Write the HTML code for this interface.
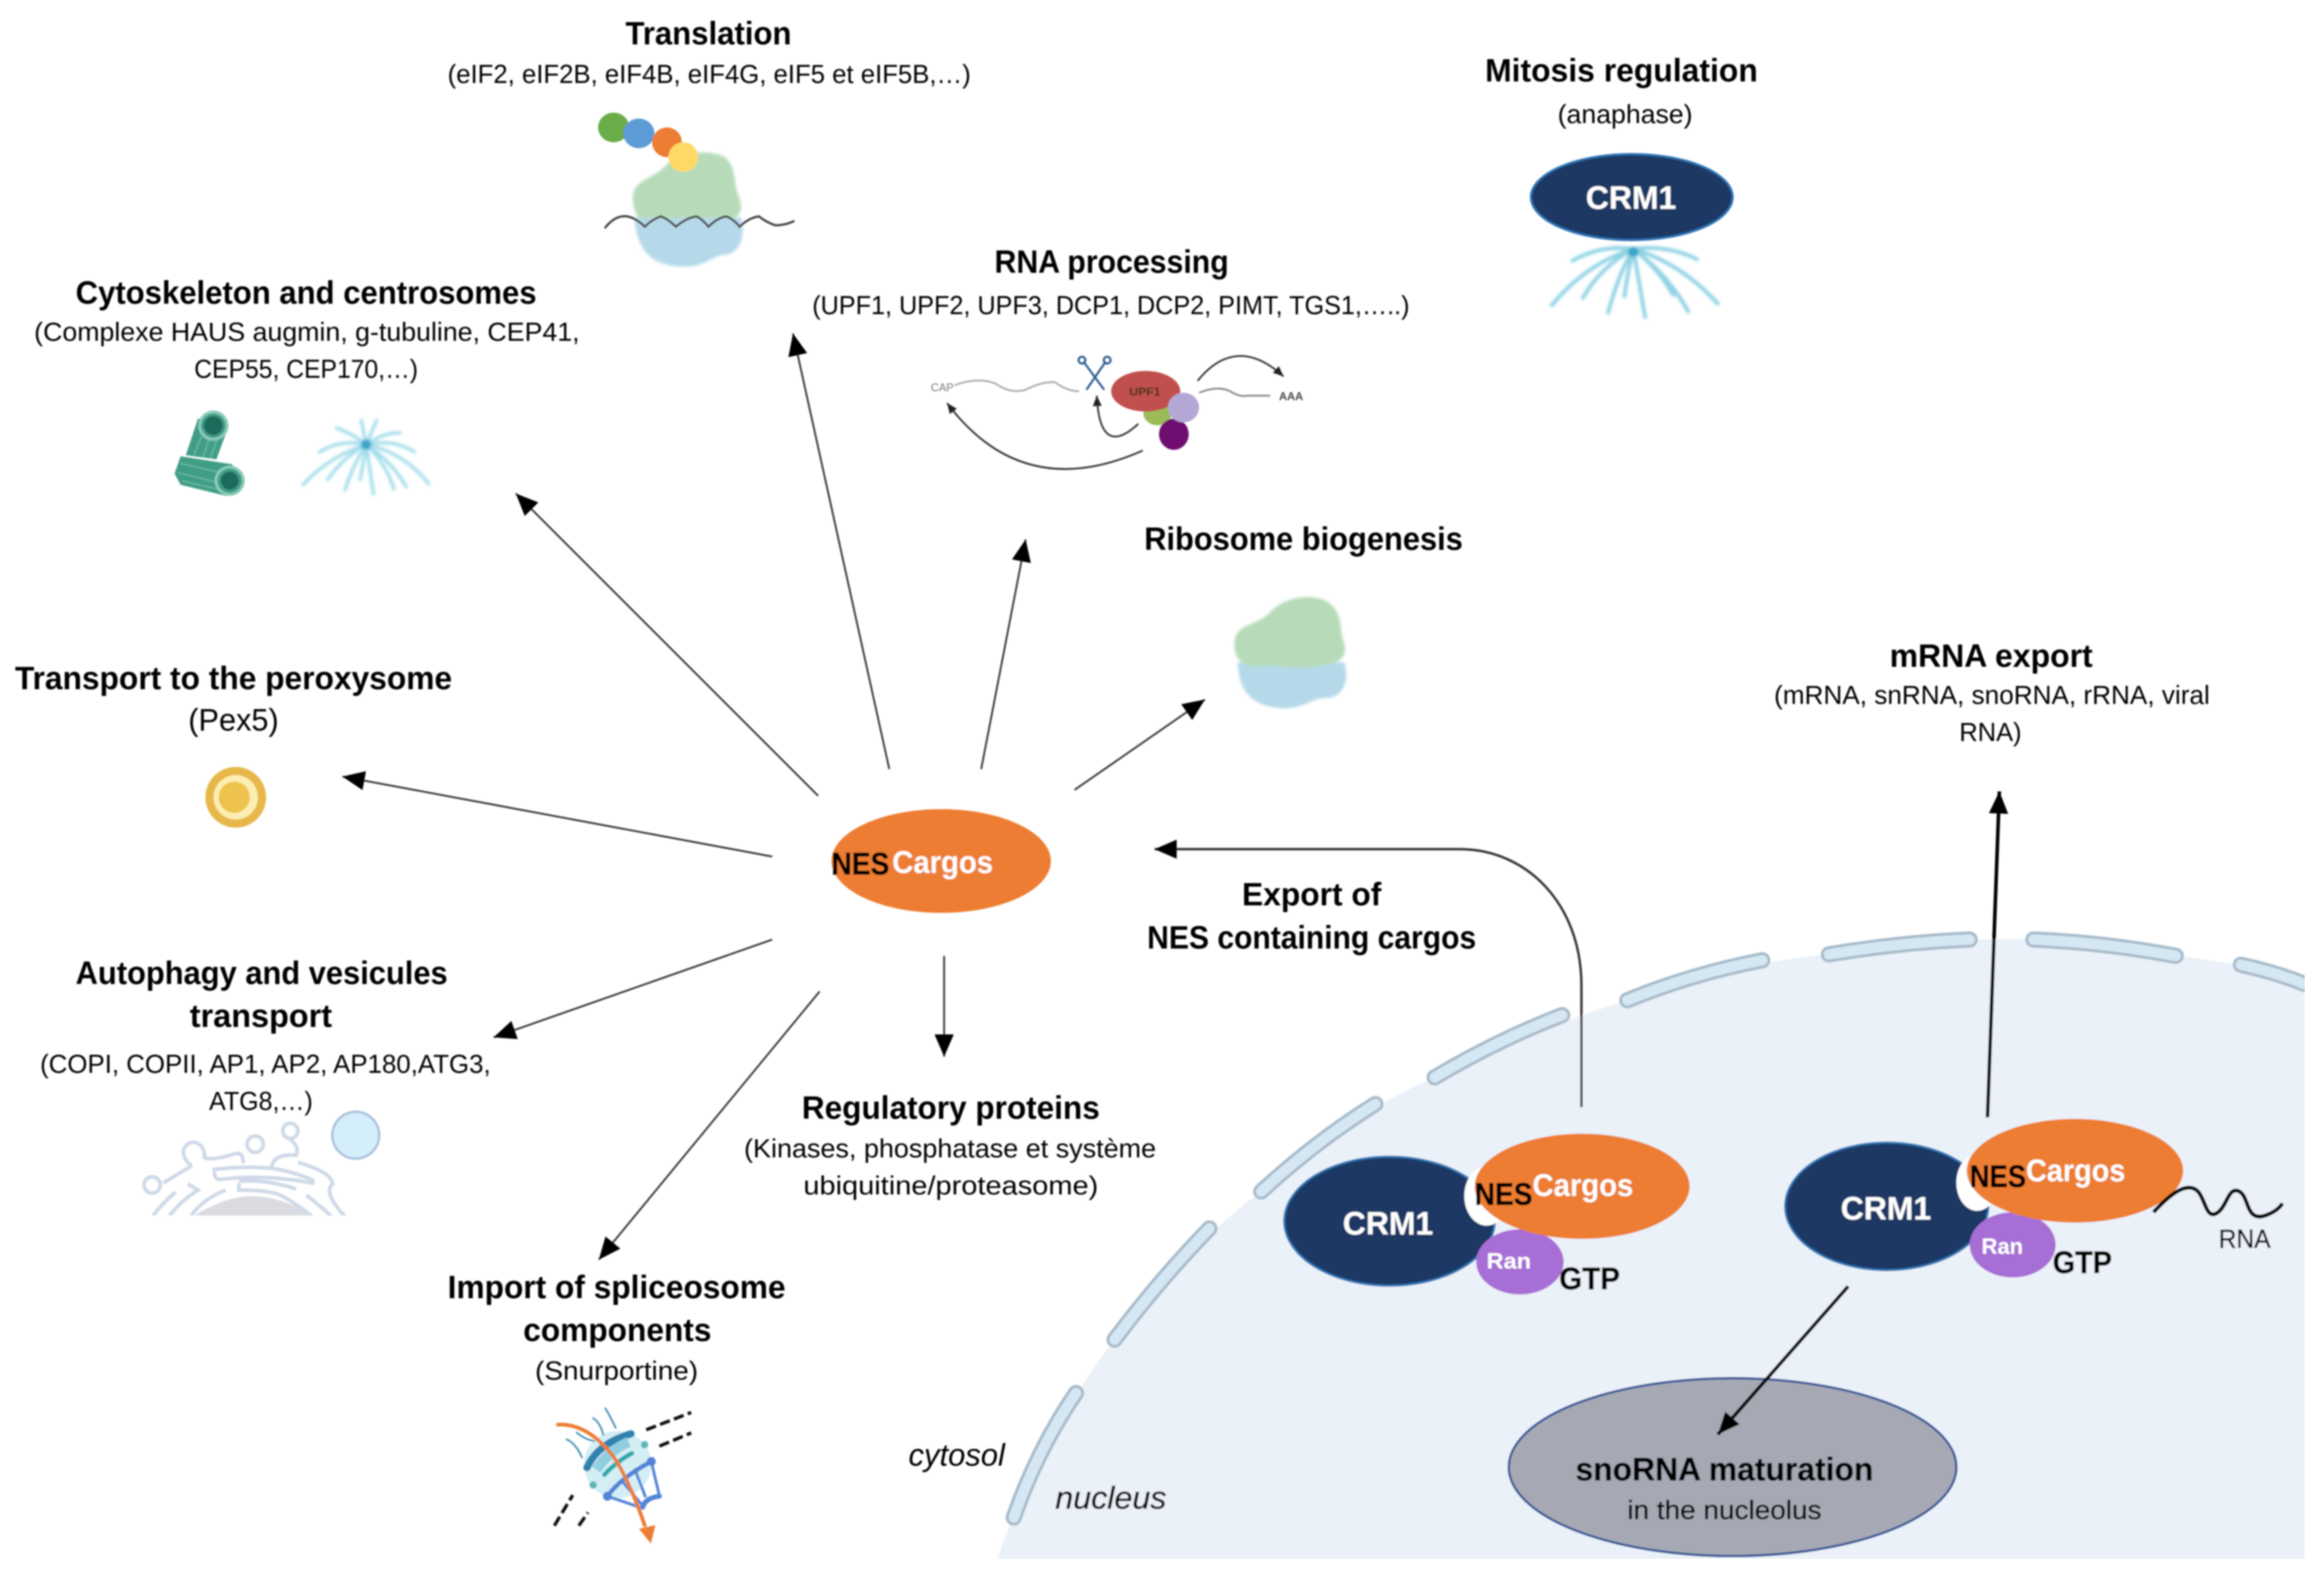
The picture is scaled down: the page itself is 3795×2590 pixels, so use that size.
<!DOCTYPE html>
<html lang="en">
<head>
<meta charset="utf-8">
<title>CRM1 export pathways</title>
<style>
html,body{margin:0;padding:0;background:#fff;width:3795px;height:2590px;overflow:hidden}
svg{display:block}
text{font-family:"Liberation Sans",sans-serif;fill:#000}
.t{font-size:22px;font-weight:700;fill:#000}
.s{font-size:17.5px;fill:#000}
.w{font-weight:700;fill:#fff}
.n{font-weight:700;fill:#000;stroke:#000;stroke-width:.35px}
.d{stroke:#000;stroke-width:.3px}
</style>
</head>
<body>
<svg xmlns="http://www.w3.org/2000/svg" width="3795" height="2590" viewBox="0 0 1568 1070.2">
<defs>
<marker id="a" markerUnits="userSpaceOnUse" markerWidth="16" markerHeight="14" refX="15" refY="6.5" orient="auto"><path d="M0 0L15 6.5L0 13Z" fill="#000"/></marker>
<marker id="sm" markerUnits="userSpaceOnUse" markerWidth="8" markerHeight="8" refX="7" refY="3" orient="auto"><path d="M0 0L7 3L0 6Z" fill="#222"/></marker>
<filter id="soft" x="0" y="0" width="100%" height="100%"><feGaussianBlur stdDeviation="0.5"/></filter>
<filter id="b1" x="-20%" y="-20%" width="140%" height="140%"><feGaussianBlur stdDeviation="0.9"/></filter>
<clipPath id="gc"><rect x="0" y="0" width="1300" height="555"/></clipPath>
</defs>
<rect width="1568" height="1070.2" fill="#fff"/>
<g filter="url(#soft)">

<!-- nucleus -->
<path d="M673 1052C690 1000 720 945 752 904C780 870 815 830 851 804C885 775 925 745 968 727C1010 705 1050 690 1098 675C1140 660 1190 648 1234 644C1280 638 1330 632 1372 634C1420 636 1468 645 1512 651L1555 664V1052Z" fill="#ebf1f8"/>
<g fill="none" stroke-linecap="round" stroke="#a9bccb" stroke-width="11">
<path d="M684 1024Q700 978 726 940"/><path d="M752 904Q782 864 816 829"/><path d="M851 804Q888 770 928 745"/><path d="M968 727Q1010 702 1054 685"/><path d="M1098 675Q1142 657 1189 648"/><path d="M1234 644Q1282 636 1329 634"/><path d="M1372 634Q1420 636 1468 645"/><path d="M1512 651Q1535 656 1555 664"/>
</g>
<g fill="none" stroke-linecap="round" stroke="#d6e7f4" stroke-width="7">
<path d="M684 1024Q700 978 726 940"/><path d="M752 904Q782 864 816 829"/><path d="M851 804Q888 770 928 745"/><path d="M968 727Q1010 702 1054 685"/><path d="M1098 675Q1142 657 1189 648"/><path d="M1234 644Q1282 636 1329 634"/><path d="M1372 634Q1420 636 1468 645"/><path d="M1512 651Q1535 656 1555 664"/>
</g>

<!-- arrows -->
<g stroke="#333" stroke-width="1.2" fill="none">
<line x1="600" y1="519" x2="535" y2="225" marker-end="url(#a)"/>
<line x1="662" y1="519" x2="692" y2="364" marker-end="url(#a)"/>
<line x1="725" y1="533" x2="813" y2="472" marker-end="url(#a)"/>
<line x1="552" y1="537" x2="348" y2="333" marker-end="url(#a)"/>
<line x1="521" y1="578" x2="231" y2="524" marker-end="url(#a)"/>
<line x1="521" y1="634" x2="333" y2="700" marker-end="url(#a)"/>
<line x1="553" y1="669" x2="404" y2="850" marker-end="url(#a)"/>
<line x1="637" y1="645" x2="637" y2="713" marker-end="url(#a)"/>
<path d="M1067 747V665C1067 610 1030 573 985 573H779" stroke-width="1.6" marker-end="url(#a)"/>
</g>
<line x1="1341" y1="754" x2="1349" y2="534" stroke="#000" stroke-width="2.4" marker-end="url(#a)"/>

<!-- central cargo -->
<ellipse cx="635" cy="581" rx="74" ry="35" fill="#ed7d31"/>
<text x="561" y="590" class="n" font-size="21" font-weight="700" textLength="39" lengthAdjust="spacingAndGlyphs">NES</text>
<text x="602" y="589" class="w" font-size="21" textLength="68" lengthAdjust="spacingAndGlyphs">Cargos</text>

<!-- mitosis CRM1 and aster -->
<g stroke="#8fd2e4" stroke-width="2.6" fill="none" stroke-linecap="round" filter="url(#b1)">
<path d="M1102 168Q1070 178 1047 206M1102 168Q1080 180 1068 201M1102 168Q1092 185 1085 211M1102 168Q1098 185 1096 200M1102 168L1110 214M1102 168Q1118 180 1129 199M1102 168Q1125 185 1139 210M1102 168Q1135 178 1159 205M1102 168Q1080 165 1061 176M1102 168Q1125 165 1145 175"/>
<circle cx="1102" cy="170" r="3.5" fill="#3aa5cb" stroke="none"/>
</g>
<ellipse cx="1101" cy="133" rx="68" ry="29" fill="#1f3864" stroke="#2e75b6" stroke-width="1.5"/>
<text x="1070" y="141" class="w" font-size="22" textLength="61" lengthAdjust="spacingAndGlyphs">CRM1</text>

<!-- translation icon -->
<g filter="url(#b1)">
<path d="M427 135C425 122 442 120 449 112C456 103 478 100 489 106C498 114 494 124 499 134C503 146 494 151 480 152L440 152C432 150 428 146 427 135Z" fill="#b7dbb9"/>
<path d="M428 147L500 147C503 158 500 170 490 172C480 172 478 180 460 180C442 179 430 172 428 147Z" fill="#b5d9e9"/>
</g>
<ellipse cx="414" cy="86" rx="10.5" ry="10" fill="#6aac46"/>
<ellipse cx="431" cy="90" rx="10.5" ry="10" fill="#5b9bd5"/>
<ellipse cx="450" cy="96" rx="10" ry="10" fill="#ed7d31"/>
<ellipse cx="461" cy="106" rx="10" ry="10" fill="#ffd966"/>
<path d="M408 154Q415 145 423 146Q429 147 435 153Q440 148 446 146Q451 148 456 153Q463 147 470 146Q474 148 478 153Q484 147 490 146Q495 148 499 153Q505 147 512 146Q517 150 523 152Q530 152 536 149" stroke="#444" stroke-width="1.5" fill="none"/>

<!-- RNA processing icon -->
<g fill="none" stroke="#aaa" stroke-width="1.2">
<path d="M644 260Q660 254 672 259Q682 266 692 263Q704 257 712 258Q720 264 728 264"/>
<path d="M809 265Q822 260 830 264Q836 268 842 267H857" stroke="#888"/>
</g>
<text x="628" y="264" font-size="7.5" style="fill:#777">CAP</text>
<text x="863" y="270" font-size="7.5" font-weight="700" style="fill:#444">AAA</text>
<g stroke="#2e5f93" stroke-width="1.4" fill="none">
<path d="M731 244L745 263M746 244L733 263"/>
<circle cx="730" cy="243" r="2.3"/><circle cx="747" cy="243" r="2.3"/>
</g>
<ellipse cx="781" cy="279" rx="9.5" ry="8" fill="#9bbb59"/>
<ellipse cx="792" cy="293" rx="10" ry="10.5" fill="#6f0a6f"/>
<ellipse cx="773" cy="264" rx="23.3" ry="13.7" fill="#c0504d"/>
<ellipse cx="798.5" cy="275" rx="10.5" ry="10" fill="#b4a7d6"/>
<text x="762" y="267" font-size="7.5" font-weight="700" style="fill:#331" textLength="21" lengthAdjust="spacingAndGlyphs">UPF1</text>
<g fill="none" stroke="#333" stroke-width="1.2">
<path d="M808 257Q834 225 866 254" marker-end="url(#sm)"/>
<path d="M768 286Q742 310 740 267" marker-end="url(#sm)"/>
<path d="M771 304Q690 340 639 272" marker-end="url(#sm)"/>
</g>

<!-- ribosome biogenesis -->
<g filter="url(#b1)">
<path d="M835 447L907 447C910 458 908 468 897 471C885 470 882 478 866 478C848 477 836 470 835 447Z" fill="#b5d9e9"/>
<path d="M833 432C835 420 850 422 858 412C868 402 888 400 897 407C907 416 903 424 907 434C910 446 900 449 885 450C870 452 860 448 848 450C838 449 832 445 833 432Z" fill="#b7dbb9"/>
</g>

<!-- microtubule tubes -->
<g transform="translate(107.4 268.6) scale(.1377)">
<path d="M190 100L130 280L280 300L335 150Z" fill="#3f9d86"/>
<path d="M205 190L170 280M245 200L215 290M285 200L250 295" stroke="#6bb8a3" stroke-width="7" fill="none"/>
<circle cx="265" cy="135" r="74" fill="#8ccbb9"/><circle cx="265" cy="135" r="60" fill="#3f9d86"/><circle cx="265" cy="135" r="46" fill="#1d6b5c"/>
<path d="M105 285L75 370L105 425L330 480L360 325Z" fill="#3f9d86"/>
<path d="M105 320L300 365M90 365L290 415M110 405L300 450" stroke="#6bb8a3" stroke-width="7" fill="none"/>
<circle cx="345" cy="405" r="74" fill="#8ccbb9"/><circle cx="345" cy="405" r="60" fill="#3f9d86"/><circle cx="345" cy="405" r="44" fill="#1d6b5c"/>
</g>
<!-- cytoskeleton aster -->
<g stroke="#a5deeb" stroke-width="2.3" fill="none" stroke-linecap="round" filter="url(#b1)">
<path d="M247 300Q222 308 204.500 327M247 300Q232 308 221 323.700M247 300Q238 314 232.700 330.600M247 300L243 323.700M247 300L252 333.300M247 300Q260 312 265.800 329.900M247 300Q265 312 274 328.500M247 300Q272 305 289.200 326.400M247 300Q230 296 215.500 305M247 300Q266 296 279.500 305M247 300Q237 292 227 289M247 300Q258 292 269.900 292M247 300L243.700 283.700M247 300L254 283.700"/>
<circle cx="247" cy="300" r="3.5" fill="#3aa5cb" stroke="none"/>
</g>

<!-- peroxisome -->
<circle cx="159" cy="538" r="20.5" fill="#e7b84a"/>
<circle cx="159" cy="538" r="15" fill="#fcedb0"/>
<circle cx="158" cy="538" r="10.5" fill="#edc24e"/>

<!-- autophagy icon -->
<ellipse cx="240" cy="766" rx="15.8" ry="15.8" fill="#d5eefc" stroke="#a9c0dc" stroke-width="1.6"/>
<g transform="translate(90.9 743.8) scale(.1377)">
<g clip-path="url(#gc)">
<path d="M290 555Q450 460 570 460Q720 460 870 555Z" fill="#d9dbe0"/>
<g fill="none" stroke="#cfd9e8" stroke-width="18">
<path d="M275 555Q340 470 445 430"/>
<path d="M840 455Q900 500 965 560"/>
<path d="M510 395V430Q640 430 700 450Q770 480 870 560"/>
<path d="M510 385Q660 380 790 425"/>
<path d="M390 340Q390 380 420 378Q640 350 880 398"/>
<path d="M380 330Q540 310 680 325Q780 340 880 385"/>
<path d="M170 555Q230 480 310 430L260 400"/>
<path d="M90 555Q130 500 200 440"/>
<path d="M140 395L280 310"/>
<circle cx="85" cy="405" r="40"/>
<path d="M280 310C240 290 220 230 260 205C310 175 350 230 340 270Q370 290 500 250Q535 250 530 300"/>
<circle cx="590" cy="205" r="40"/>
<circle cx="762" cy="140" r="37"/>
<path d="M760 180Q810 220 790 260Q680 250 670 320"/>
<path d="M800 295Q960 340 970 400Q920 440 1030 560"/>
</g>
</g>
</g>

<!-- NPC icon -->
<g transform="translate(367.8 942.1) scale(.1377)">
<circle cx="355" cy="335" r="165" fill="#d3eef5"/>
<g fill="none" stroke-linecap="round">
<path d="M105 212Q150 230 180 300M155 178Q190 210 240 220M235 108Q270 130 285 190M295 60Q320 100 345 155" stroke="#4a94b5" stroke-width="9"/>
<path d="M205 350Q260 230 420 185" stroke="#2f82ad" stroke-width="36"/>
<path d="M250 360Q320 260 410 225" stroke="#8fcfe0" stroke-width="50" stroke-linecap="butt"/>
<path d="M290 385Q350 320 425 280" stroke="#2fa8ab" stroke-width="22"/>
<path d="M305 490Q370 400 520 320" stroke="#5284d6" stroke-width="22"/>
<path d="M520 320L560 490M440 360L490 490M380 420L480 540M305 490L480 550" stroke="#5284d6" stroke-width="14"/>
<path d="M480 540Q490 500 560 490" stroke="#5284d6" stroke-width="24"/>
</g>
<circle cx="305" cy="490" r="22" fill="#5284d6"/><circle cx="520" cy="320" r="22" fill="#5284d6"/>
<circle cx="487" cy="238" r="18" fill="#5fb7b7"/><circle cx="235" cy="435" r="18" fill="#5fb7b7"/>
<path d="M55 140C180 130 270 215 330 290C380 360 440 490 490 640" stroke="#ed7d31" stroke-width="18" fill="none"/>
<path d="M460 650L540 632L518 722Z" fill="#ed7d31"/>
</g>
<g stroke="#111" stroke-width="2.2" stroke-dasharray="7 3" fill="none">
<path d="M436 964.800L466.300 953.100M444.900 975.800L466.300 966.900M374 1029.500L386.400 1008.900M390.500 1029.500L396.700 1020.600"/>
</g>

<!-- snoRNA -->
<ellipse cx="1169" cy="990" rx="151" ry="60" fill="#a6a9b4" stroke="#2f5597" stroke-width="1.6"/>
<line x1="1247" y1="868" x2="1159" y2="968" stroke="#000" stroke-width="2.4" marker-end="url(#a)"/>

<!-- complex 1 -->
<ellipse cx="937.5" cy="824" rx="71" ry="43.5" fill="#1f3864" stroke="#2e75b6" stroke-width="1.5"/>
<ellipse cx="1003" cy="807" rx="15" ry="20" fill="#fff"/>
<ellipse cx="1025.5" cy="851.5" rx="29.5" ry="22" fill="#a76ed5"/>
<ellipse cx="1067.5" cy="800.5" rx="72.5" ry="35.5" fill="#ed7d31"/>
<text x="906" y="833" class="w" font-size="22" textLength="61" lengthAdjust="spacingAndGlyphs">CRM1</text>
<text x="995" y="813" class="n" font-size="21" font-weight="700" textLength="39" lengthAdjust="spacingAndGlyphs">NES</text>
<text x="1034" y="807" class="w" font-size="21" textLength="68" lengthAdjust="spacingAndGlyphs">Cargos</text>
<text x="1003" y="856" class="w" font-size="15" textLength="30" lengthAdjust="spacingAndGlyphs">Ran</text>
<text x="1052" y="870" class="n" font-size="21" font-weight="700" textLength="41" lengthAdjust="spacingAndGlyphs">GTP</text>

<!-- complex 2 -->
<ellipse cx="1273" cy="814" rx="68.5" ry="43" fill="#1f3864" stroke="#2e75b6" stroke-width="1.5"/>
<ellipse cx="1334" cy="798" rx="14" ry="19" fill="#fff"/>
<ellipse cx="1358" cy="840" rx="29" ry="22" fill="#a76ed5"/>
<ellipse cx="1400" cy="790" rx="73" ry="35" fill="#ed7d31"/>
<text x="1242" y="823" class="w" font-size="22" textLength="61" lengthAdjust="spacingAndGlyphs">CRM1</text>
<text x="1329" y="801" class="n" font-size="21" font-weight="700" textLength="38" lengthAdjust="spacingAndGlyphs">NES</text>
<text x="1367" y="797" class="w" font-size="21" textLength="67" lengthAdjust="spacingAndGlyphs">Cargos</text>
<text x="1337" y="846" class="w" font-size="15" textLength="28" lengthAdjust="spacingAndGlyphs">Ran</text>
<text x="1385" y="859" class="n" font-size="21" font-weight="700" textLength="40" lengthAdjust="spacingAndGlyphs">GTP</text>
<path d="M1453 818C1465 805 1475 798 1482 803C1488 808 1488 822 1495 819C1503 815 1503 800 1511 804C1518 808 1515 825 1529 820Q1537 817 1540 812" stroke="#000" stroke-width="2.6" fill="none"/>

<!-- labels -->
<text x="422" y="30" class="t" textLength="112" lengthAdjust="spacingAndGlyphs">Translation</text>
<text x="302" y="56" class="s" textLength="353" lengthAdjust="spacingAndGlyphs">(eIF2, eIF2B, eIF4B, eIF4G, eIF5 et eIF5B,…)</text>
<text x="1002" y="55" class="t" textLength="184" lengthAdjust="spacingAndGlyphs">Mitosis regulation</text>
<text x="1051" y="83" class="s" textLength="91" lengthAdjust="spacingAndGlyphs">(anaphase)</text>
<text x="671" y="184" class="t" textLength="158" lengthAdjust="spacingAndGlyphs">RNA processing</text>
<text x="548" y="212" class="s" textLength="403" lengthAdjust="spacingAndGlyphs">(UPF1, UPF2, UPF3, DCP1, DCP2, PIMT, TGS1,…..)</text>
<text x="51" y="205" class="t" textLength="311" lengthAdjust="spacingAndGlyphs">Cytoskeleton and centrosomes</text>
<text x="23" y="230" class="s" textLength="368" lengthAdjust="spacingAndGlyphs">(Complexe HAUS augmin, g-tubuline, CEP41,</text>
<text x="131" y="255" class="s" textLength="151" lengthAdjust="spacingAndGlyphs">CEP55, CEP170,…)</text>
<text x="772" y="371" class="t" textLength="215" lengthAdjust="spacingAndGlyphs">Ribosome biogenesis</text>
<text x="10" y="465" class="t" textLength="295" lengthAdjust="spacingAndGlyphs">Transport to the peroxysome</text>
<text x="127" y="493" class="s" style="font-size:21px" textLength="61" lengthAdjust="spacingAndGlyphs">(Pex5)</text>
<text x="1275" y="450" class="t" textLength="137" lengthAdjust="spacingAndGlyphs">mRNA export</text>
<text x="1197" y="475" class="s" textLength="294" lengthAdjust="spacingAndGlyphs">(mRNA, snRNA, snoRNA, rRNA, viral</text>
<text x="1322" y="500" class="s" textLength="42" lengthAdjust="spacingAndGlyphs">RNA)</text>
<text x="838" y="611" class="t" textLength="94" lengthAdjust="spacingAndGlyphs">Export of</text>
<text x="774" y="640" class="t" textLength="222" lengthAdjust="spacingAndGlyphs">NES containing cargos</text>
<text x="51" y="664" class="t" textLength="251" lengthAdjust="spacingAndGlyphs">Autophagy and vesicules</text>
<text x="128" y="693" class="t" textLength="96" lengthAdjust="spacingAndGlyphs">transport</text>
<text x="27" y="724" class="s" textLength="304" lengthAdjust="spacingAndGlyphs">(COPI, COPII, AP1, AP2, AP180,ATG3,</text>
<text x="141" y="749" class="s" textLength="70" lengthAdjust="spacingAndGlyphs">ATG8,…)</text>
<text x="541" y="755" class="t" textLength="201" lengthAdjust="spacingAndGlyphs">Regulatory proteins</text>
<text x="502" y="781" class="s" textLength="278" lengthAdjust="spacingAndGlyphs">(Kinases, phosphatase et système</text>
<text x="542" y="806" class="s" textLength="199" lengthAdjust="spacingAndGlyphs">ubiquitine/proteasome)</text>
<text x="302" y="876" class="t" textLength="228" lengthAdjust="spacingAndGlyphs">Import of spliceosome</text>
<text x="353" y="905" class="t" textLength="127" lengthAdjust="spacingAndGlyphs">components</text>
<text x="361" y="931" class="s" textLength="110" lengthAdjust="spacingAndGlyphs">(Snurportine)</text>
<text x="613" y="989" font-size="21" font-style="italic" textLength="65" lengthAdjust="spacingAndGlyphs">cytosol</text>
<text x="712" y="1018" font-size="21" font-style="italic" class="d" textLength="75" lengthAdjust="spacingAndGlyphs">nucleus</text>
<text x="1063" y="999" class="t d" textLength="201" lengthAdjust="spacingAndGlyphs">snoRNA maturation</text>
<text x="1098" y="1025" class="s d" textLength="131" lengthAdjust="spacingAndGlyphs">in the nucleolus</text>
<text x="1497" y="842" class="s d" textLength="35" lengthAdjust="spacingAndGlyphs">RNA</text>
</g>
</svg>
</body>
</html>
